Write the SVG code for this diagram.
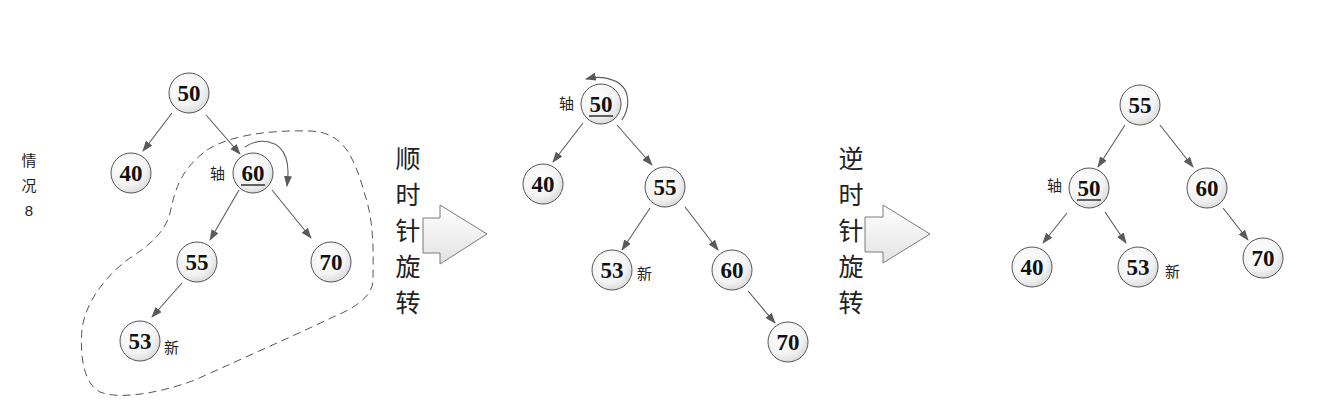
<svg xmlns="http://www.w3.org/2000/svg" width="1325" height="410" viewBox="0 0 1325 410">
<style>
.nd circle{fill:url(#g);stroke:#555;stroke-width:1}
.nd text{font-family:"Liberation Serif",serif;font-weight:bold;font-size:23px;fill:#111;text-anchor:middle}
.ul{stroke:#111;stroke-width:1.3}
.lb{font-family:"Liberation Sans","Noto Sans CJK SC",sans-serif;font-size:15px;fill:#222}
.big{font-family:"Liberation Sans","Noto Sans CJK SC",sans-serif;font-size:25px;fill:#222;text-anchor:middle}
.e{stroke:#5a5a5a;stroke-width:1.1;fill:none;marker-end:url(#ah)}
.blk{fill:url(#bg);stroke:#7a7a7a;stroke-width:1}
</style>
<defs>
<radialGradient id="g" cx="0.4" cy="0.35" r="0.7">
<stop offset="0" stop-color="#ffffff"/>
<stop offset="0.65" stop-color="#f3f3f3"/>
<stop offset="1" stop-color="#d8d8d8"/>
</radialGradient>
<linearGradient id="bg" x1="0" y1="0" x2="0" y2="1">
<stop offset="0" stop-color="#ffffff"/>
<stop offset="1" stop-color="#e2e2e2"/>
</linearGradient>
<marker id="ah" markerWidth="11" markerHeight="8" refX="10" refY="4" orient="auto" markerUnits="userSpaceOnUse">
<path d="M0,0 L11,4 L0,8 Z" fill="#5a5a5a"/>
</marker>
</defs>
<rect width="1325" height="410" fill="#fff"/>

<g id="label-case">
<text class="lb" x="29" y="166" text-anchor="middle">情</text>
<text class="lb" x="29" y="191" text-anchor="middle">况</text>
<text class="lb" x="29" y="216" text-anchor="middle">8</text>
</g>

<g id="blob">
<path d="M207,150 C230,135 270,130 310,131 C345,132 355,160 365,195 C375,225 373,260 373,280 C373,300 345,312 333,317 C300,333 250,355 195,380 C160,393 120,400 100,392 C82,383 80,350 82,330 C85,300 110,272 130,258 C150,245 165,232 170,213 C175,190 180,170 207,150 Z" fill="none" stroke="#555" stroke-width="1" stroke-dasharray="8,5"/>
</g>

<g id="connectors">
<line class="e" x1="172" y1="113" x2="143" y2="151"/>
<line class="e" x1="206" y1="115" x2="240" y2="154"/>
<line class="e" x1="239" y1="190" x2="210" y2="240"/>
<line class="e" x1="272" y1="190" x2="311" y2="238"/>
<line class="e" x1="182" y1="283" x2="152" y2="317"/>
<path class="e" d="M245,147 C260,137 280,140 286,158 C289,168 288,176 287,186"/>
<line class="e" x1="583" y1="123" x2="553" y2="162"/>
<line class="e" x1="617" y1="125" x2="652" y2="165"/>
<line class="e" x1="650" y1="208" x2="622" y2="250"/>
<line class="e" x1="685" y1="207" x2="718" y2="250"/>
<line class="e" x1="748" y1="291" x2="775" y2="323"/>
<path class="e" d="M622,120 C630,108 630,92 620,84 C610,77 598,76 586,79"/>
<line class="e" x1="1125" y1="125" x2="1098" y2="167"/>
<line class="e" x1="1160" y1="125" x2="1193" y2="167"/>
<line class="e" x1="1067" y1="213" x2="1043" y2="243"/>
<line class="e" x1="1105" y1="212" x2="1126" y2="243"/>
<line class="e" x1="1223" y1="208" x2="1248" y2="240"/>
</g>

<g id="t1-50" class="nd"><circle cx="189" cy="93" r="20"/><text x="189" y="101">50</text></g>
<g id="t1-40" class="nd"><circle cx="131" cy="173" r="20"/><text x="131" y="181">40</text></g>
<g id="t1-60" class="nd"><circle cx="253" cy="173" r="20"/><text x="253" y="181">60</text><line class="ul" x1="241" y1="185" x2="265" y2="185"/></g>
<g id="t1-55" class="nd"><circle cx="197" cy="262" r="20"/><text x="197" y="270">55</text></g>
<g id="t1-70" class="nd"><circle cx="331" cy="262" r="20"/><text x="331" y="270">70</text></g>
<g id="t1-53" class="nd"><circle cx="140" cy="341" r="20"/><text x="140" y="349">53</text></g>
<g id="t1-labels"><text class="lb" x="210" y="179">轴</text><text class="lb" x="164" y="353">新</text></g>

<g id="arrow1">
<text class="big" x="408" y="168">顺</text>
<text class="big" x="408" y="204">时</text>
<text class="big" x="408" y="240">针</text>
<text class="big" x="408" y="276">旋</text>
<text class="big" x="408" y="312">转</text>
<polygon class="blk" points="423,218 440,218 440,205 487,234 440,264 440,253 423,253"/>
</g>

<g id="t2-50" class="nd"><circle cx="601" cy="104" r="20"/><text x="601" y="112">50</text><line class="ul" x1="589" y1="116" x2="613" y2="116"/></g>
<g id="t2-40" class="nd"><circle cx="543" cy="184" r="20"/><text x="543" y="192">40</text></g>
<g id="t2-55" class="nd"><circle cx="665" cy="187" r="20"/><text x="665" y="195">55</text></g>
<g id="t2-53" class="nd"><circle cx="612" cy="270" r="20"/><text x="612" y="278">53</text></g>
<g id="t2-60" class="nd"><circle cx="732" cy="270" r="20"/><text x="732" y="278">60</text></g>
<g id="t2-70" class="nd"><circle cx="788" cy="342" r="20"/><text x="788" y="350">70</text></g>
<g id="t2-labels"><text class="lb" x="559" y="109">轴</text><text class="lb" x="637" y="279">新</text></g>

<g id="arrow2">
<text class="big" x="851" y="168">逆</text>
<text class="big" x="851" y="204">时</text>
<text class="big" x="851" y="240">针</text>
<text class="big" x="851" y="276">旋</text>
<text class="big" x="851" y="312">转</text>
<polygon class="blk" points="865,217 883,217 883,205 930,234 883,263 883,252 865,252"/>
</g>

<g id="t3-55" class="nd"><circle cx="1140" cy="105" r="20"/><text x="1140" y="113">55</text></g>
<g id="t3-50" class="nd"><circle cx="1089" cy="188" r="20"/><text x="1089" y="196">50</text><line class="ul" x1="1077" y1="200" x2="1101" y2="200"/></g>
<g id="t3-60" class="nd"><circle cx="1207" cy="188" r="20"/><text x="1207" y="196">60</text></g>
<g id="t3-40" class="nd"><circle cx="1032" cy="267" r="20"/><text x="1032" y="275">40</text></g>
<g id="t3-53" class="nd"><circle cx="1138" cy="267" r="20"/><text x="1138" y="275">53</text></g>
<g id="t3-70" class="nd"><circle cx="1263" cy="258" r="20"/><text x="1263" y="266">70</text></g>
<g id="t3-labels"><text class="lb" x="1047" y="191">轴</text><text class="lb" x="1165" y="277">新</text></g>
</svg>
